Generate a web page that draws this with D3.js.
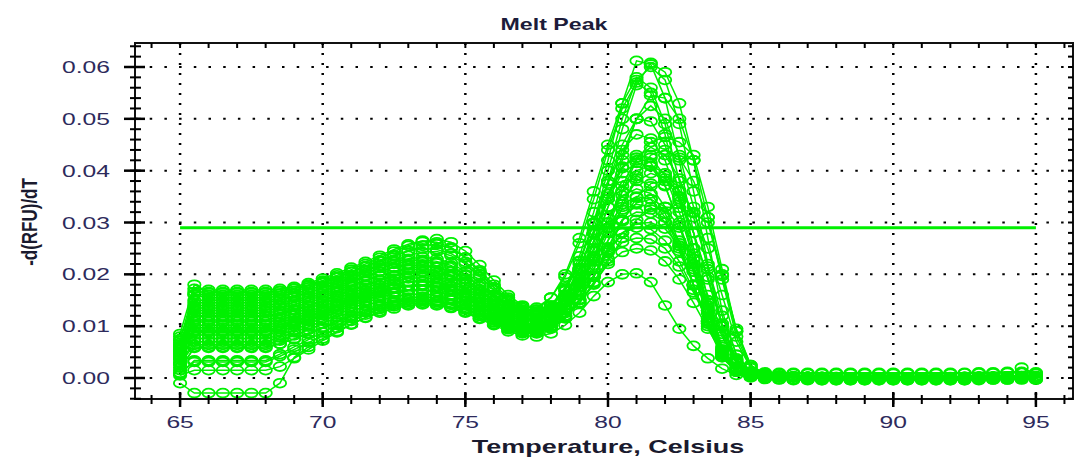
<!DOCTYPE html>
<html>
<head>
<meta charset="utf-8">
<script src="https://cdn.jsdelivr.net/npm/d3@7"></script>
<style>
  body { margin: 0; background: #fff; }
  text { font-family: "Liberation Sans", Arial, sans-serif; }
</style>
</head>
<body>
<svg id="chart" width="1075" height="458"></svg>
<script>
// temperatures (deg C), one reading every half degree
var temps = [65, 65.5, 66, 66.5, 67, 67.5, 68, 68.5, 69, 69.5, 70, 70.5, 71, 71.5, 72, 72.5, 73, 73.5, 74, 74.5,
  75, 75.5, 76, 76.5, 77, 77.5, 78, 78.5, 79, 79.5, 80, 80.5, 81, 81.5, 82, 82.5, 83, 83.5, 84, 84.5,
  85, 85.5, 86, 86.5, 87, 87.5, 88, 88.5, 89, 89.5, 90, 90.5, 91, 91.5, 92, 92.5, 93, 93.5, 94, 94.5, 95];

var xTicks = [65, 70, 75, 80, 85, 90, 95];
var yTicks = [0, 0.01, 0.02, 0.03, 0.04, 0.05, 0.06];
var threshold = 0.029;

// -d(RFU)/dT per well
var well01 = [.0085, .0180,.0165,.0165,.0165,.0165,.0165, .0168,.0172,.0178,.0186,.0195,.0205,.0215,.0225,.0235,.0245, .0255,.0258,
  .0250,.0232,.0205,.0175,.0150,.0132, .0128,.0140,.0175,.0235,.0320,.0420,.0530, .0612,.0605,
  .0540,.0420,.0280,.0150,.0060,.0018,.0006, .0004,.0003,.0002,.0002,.0001,.0001,.0001,.0001,.0001,.0001,.0001,.0001,.0001,.0001,.0001,.0002,.0002,.0002,.0003,.0002];
var well02 = [.0055, .0160,.0155,.0155,.0155,.0155,.0155, .0158,.0163,.0170,.0178,.0188,.0198,.0208,.0218,.0227,.0236, .0243,.0244,
  .0236,.0220,.0196,.0170,.0148,.0130, .0124,.0132,.0160,.0210,.0285,.0380,.0480, .0565,.0608,
  .0590,.0530,.0420,.0270,.0130,.0045,.0012, .0005,.0003,.0002,.0002,.0002,.0001,.0001,.0001,.0001,.0001,.0001,.0001,.0001,.0002,.0002,.0002,.0002,.0003,.0003,.0002];
var well03 = [.0080, .0145,.0145,.0145,.0145,.0145,.0145, .0150,.0156,.0164,.0174,.0184,.0195,.0206,.0216,.0224,.0230, .0233,.0230,
  .0222,.0205,.0182,.0160,.0142,.0130, .0132,.0155,.0200,.0270,.0360,.0450,.0530, .0580,.0560,
  .0490,.0380,.0250,.0130,.0050,.0015,.0005, .0003,.0002,.0002,.0001,.0001,.0001,.0001,.0001,.0001,.0001,.0001,.0001,.0001,.0001,.0001,.0001,.0002,.0002,.0002,.0002];
var well04 = [.0045, .0135,.0135,.0135,.0135,.0135,.0135, .0140,.0146,.0154,.0163,.0173,.0184,.0195,.0205,.0214,.0220, .0224,.0222,
  .0214,.0198,.0176,.0155,.0138,.0126, .0122,.0130,.0150,.0190,.0250,.0330,.0420, .0500,.0545,
  .0540,.0500,.0420,.0310,.0190,.0080,.0020, .0006,.0004,.0003,.0002,.0002,.0002,.0001,.0001,.0001,.0001,.0001,.0001,.0001,.0001,.0002,.0002,.0002,.0002,.0003,.0003];
var well05 = [.0065, .0125,.0125,.0125,.0125,.0125,.0125, .0130,.0137,.0145,.0155,.0165,.0176,.0187,.0197,.0206,.0212, .0215,.0213,
  .0205,.0190,.0170,.0150,.0134,.0122, .0120,.0135,.0170,.0225,.0300,.0380,.0450, .0500,.0495,
  .0450,.0360,.0250,.0140,.0055,.0015,.0003, -.0001,-.0002,-.0003,-.0003,-.0004,-.0004,-.0004,-.0004,-.0004,-.0004,-.0004,-.0004,-.0004,-.0004,-.0004,-.0003,-.0003,-.0003,-.0002,-.0003];
var well06 = [.0040, .0118,.0118,.0118,.0118,.0118,.0118, .0122,.0130,.0138,.0148,.0158,.0168,.0178,.0188,.0196,.0202, .0205,.0203,
  .0196,.0182,.0162,.0143,.0128,.0116, .0112,.0120,.0140,.0175,.0225,.0290,.0360, .0420,.0455,
  .0465,.0455,.0430,.0330,.0210,.0090,.0025, .0008,.0005,.0003,.0002,.0002,.0002,.0001,.0001,.0001,.0001,.0001,.0001,.0001,.0001,.0001,.0002,.0002,.0003,.0020,.0008];
var well07 = [.0050, .0108,.0108,.0108,.0108,.0108,.0108, .0112,.0120,.0128,.0138,.0148,.0158,.0168,.0178,.0186,.0192, .0194,.0190,
  .0183,.0170,.0152,.0134,.0120,.0110, .0110,.0124,.0158,.0210,.0280,.0350,.0405, .0430,.0425,
  .0390,.0320,.0230,.0130,.0050,.0014,.0004, .0003,.0002,.0001,.0001,.0001,.0001,.0001,.0001,.0001,.0001,.0001,.0001,.0001,.0001,.0001,.0001,.0001,.0002,.0002,.0002];
var well08 = [.0035, .0097,.0097,.0097,.0097,.0097,.0097, .0102,.0110,.0120,.0130,.0141,.0152,.0163,.0173,.0181,.0186, .0188,.0185,
  .0178,.0165,.0148,.0131,.0117,.0106, .0104,.0114,.0140,.0180,.0235,.0300,.0360, .0400,.0410,
  .0395,.0350,.0280,.0190,.0100,.0035,.0008, .0004,.0003,.0002,.0002,.0001,.0001,.0001,.0001,.0001,.0001,.0001,.0001,.0001,.0001,.0002,.0002,.0002,.0002,.0002,.0002];
var well09 = [.0075, .0083,.0083,.0083,.0083,.0083,.0083, .0090,.0100,.0110,.0121,.0132,.0144,.0155,.0165,.0173,.0178, .0180,.0176,
  .0170,.0157,.0140,.0124,.0110,.0100, .0098,.0112,.0145,.0195,.0260,.0330,.0380, .0385,.0370,
  .0330,.0260,.0180,.0100,.0040,.0012,.0002, -.0001,-.0002,-.0002,-.0002,-.0002,-.0002,-.0002,-.0002,-.0002,-.0002,-.0002,-.0002,-.0002,-.0002,-.0002,-.0002,-.0001,-.0001,-.0001,-.0001];
var well10 = [.0030, .0070,.0070,.0070,.0070,.0070,.0070, .0078,.0088,.0099,.0110,.0122,.0134,.0145,.0155,.0163,.0168, .0170,.0167,
  .0160,.0148,.0132,.0117,.0104,.0095, .0092,.0104,.0132,.0175,.0230,.0290,.0335, .0350,.0345,
  .0310,.0250,.0180,.0105,.0045,.0014,.0005, .0003,.0002,.0002,.0001,.0001,.0001,.0001,.0001,.0001,.0001,.0001,.0001,.0001,.0001,.0001,.0002,.0002,.0002,.0002,.0002];
var well11 = [.0020, .0058,.0058,.0058,.0058,.0058,.0058, .0066,.0076,.0087,.0098,.0110,.0121,.0132,.0142,.0150,.0155, .0157,.0155,
  .0150,.0140,.0126,.0112,.0100,.0092, .0090,.0100,.0125,.0160,.0210,.0265,.0305, .0320,.0318,
  .0300,.0265,.0210,.0150,.0085,.0030,.0008, .0004,.0003,.0002,.0002,.0001,.0001,.0001,.0001,.0001,.0001,.0001,.0001,.0001,.0001,.0001,.0001,.0002,.0002,.0002,.0002];
var well12 = [.0010, .0031,.0031,.0031,.0031,.0031,.0031, .0042,.0055,.0068,.0082,.0096,.0110,.0122,.0133,.0141,.0146, .0148,.0146,
  .0141,.0132,.0120,.0108,.0097,.0090, .0088,.0096,.0118,.0150,.0195,.0245,.0280, .0290,.0287,
  .0265,.0225,.0170,.0110,.0050,.0015,.0005, .0003,.0002,.0002,.0001,.0001,.0001,.0001,.0001,.0001,.0001,.0001,.0001,.0001,.0001,.0001,.0001,.0001,.0002,.0002,.0002];
var well13 = [.0005, .0015,.0015,.0015,.0015,.0015,.0015, .0022,.0038,.0055,.0072,.0088,.0103,.0117,.0129,.0138,.0143, .0145,.0143,
  .0137,.0128,.0116,.0104,.0094,.0086, .0086,.0095,.0115,.0145,.0185,.0230,.0262, .0270,.0268,
  .0250,.0215,.0165,.0110,.0055,.0020,.0010, .0009,.0008,.0008,.0008,.0008,.0008,.0008,.0008,.0008,.0008,.0008,.0008,.0008,.0008,.0009,.0009,.0009,.0010,.0010,.0009];
var well14 = [-.0010, -.0029,-.0029,-.0029,-.0029,-.0029,-.0029, -.0010,.0040,.0060,.0076,.0090,.0104,.0116,.0126,.0134,.0140, .0142,.0140,
  .0135,.0126,.0114,.0102,.0090,.0082, .0080,.0086,.0102,.0126,.0158,.0185,.0200, .0202,.0185,
  .0140,.0095,.0062,.0038,.0018,.0006,.0001, -.0002,-.0003,-.0004,-.0004,-.0004,-.0004,-.0004,-.0004,-.0004,-.0004,-.0004,-.0004,-.0004,-.0004,-.0004,-.0004,-.0003,-.0003,-.0003,-.0003];
var well15 = [.0060, .0150,.0150,.0150,.0150,.0150,.0150, .0153,.0158,.0165,.0173,.0182,.0192,.0202,.0212,.0220,.0226, .0228,.0225,
  .0217,.0200,.0178,.0157,.0140,.0128, .0125,.0130,.0145,.0170,.0210,.0265,.0330, .0390,.0430,
  .0440,.0425,.0380,.0310,.0200,.0090,.0022, .0007,.0004,.0003,.0002,.0002,.0001,.0001,.0001,.0001,.0001,.0001,.0001,.0001,.0001,.0002,.0002,.0002,.0003,.0004,.0003];
var well16 = [.0025, .0090,.0090,.0090,.0090,.0090,.0090, .0095,.0103,.0112,.0122,.0132,.0143,.0154,.0164,.0172,.0178, .0180,.0178,
  .0172,.0160,.0144,.0128,.0114,.0104, .0100,.0106,.0120,.0145,.0180,.0225,.0270, .0305,.0325,
  .0330,.0328,.0318,.0300,.0197,.0095,.0025, .0008,.0004,.0003,.0002,.0002,.0001,.0001,.0001,.0001,.0001,.0001,.0001,.0001,.0001,.0001,.0002,.0002,.0002,.0003,.0003];
var well17 = [.0072, .0172,.0170,.0170,.0170,.0170,.0170, .0172,.0176,.0183,.0192,.0202,.0213,.0224,.0236,.0248,.0258, .0265,.0262,
  .0252,.0233,.0208,.0180,.0155,.0138, .0136,.0155,.0195,.0260,.0345,.0440,.0520, .0570,.0550,
  .0470,.0350,.0220,.0110,.0040,.0012,.0004, .0003,.0002,.0002,.0001,.0001,.0001,.0001,.0001,.0001,.0001,.0001,.0001,.0001,.0001,.0001,.0001,.0002,.0002,.0002,.0002];
var well18 = [.0062, .0162,.0160,.0160,.0160,.0160,.0160, .0163,.0168,.0175,.0184,.0194,.0205,.0216,.0227,.0237,.0245, .0250,.0248,
  .0240,.0224,.0200,.0175,.0152,.0135, .0128,.0134,.0158,.0200,.0265,.0345,.0430, .0500,.0525,
  .0500,.0430,.0330,.0210,.0100,.0035,.0010, .0005,.0003,.0002,.0002,.0001,.0001,.0001,.0001,.0001,.0001,.0001,.0001,.0001,.0001,.0002,.0002,.0002,.0002,.0002,.0002];
var well19 = [.0050, .0140,.0140,.0140,.0140,.0140,.0140, .0144,.0150,.0158,.0167,.0177,.0187,.0197,.0206,.0213,.0217, .0218,.0214,
  .0206,.0191,.0171,.0151,.0135,.0124, .0122,.0138,.0172,.0226,.0298,.0375,.0440, .0470,.0462,
  .0420,.0340,.0240,.0135,.0052,.0015,.0005, .0003,.0002,.0002,.0001,.0001,.0001,.0001,.0001,.0001,.0001,.0001,.0001,.0001,.0001,.0001,.0001,.0002,.0002,.0002,.0002];
var well20 = [.0058, .0130,.0130,.0130,.0130,.0130,.0130, .0135,.0142,.0150,.0159,.0169,.0179,.0189,.0198,.0205,.0209, .0210,.0207,
  .0199,.0186,.0167,.0148,.0132,.0120, .0116,.0124,.0146,.0182,.0234,.0300,.0370, .0425,.0445,
  .0430,.0385,.0310,.0215,.0120,.0045,.0012, .0005,.0003,.0002,.0002,.0001,.0001,.0001,.0001,.0001,.0001,.0001,.0001,.0001,.0001,.0001,.0002,.0002,.0002,.0002,.0002];
var well21 = [.0042, .0112,.0112,.0112,.0112,.0112,.0112, .0117,.0125,.0134,.0144,.0154,.0164,.0174,.0184,.0192,.0197, .0198,.0195,
  .0188,.0175,.0157,.0139,.0124,.0113, .0112,.0127,.0160,.0212,.0278,.0345,.0395, .0415,.0408,
  .0370,.0300,.0215,.0125,.0050,.0015,.0005, .0003,.0002,.0002,.0001,.0001,.0001,.0001,.0001,.0001,.0001,.0001,.0001,.0001,.0001,.0001,.0001,.0001,.0002,.0002,.0002];
var well22 = [.0038, .0102,.0102,.0102,.0102,.0102,.0102, .0107,.0115,.0124,.0134,.0144,.0155,.0165,.0174,.0181,.0185, .0186,.0183,
  .0176,.0163,.0146,.0130,.0116,.0106, .0103,.0111,.0133,.0168,.0218,.0280,.0340, .0380,.0395,
  .0385,.0345,.0280,.0195,.0105,.0038,.0010, .0004,.0003,.0002,.0002,.0001,.0001,.0001,.0001,.0001,.0001,.0001,.0001,.0001,.0001,.0001,.0002,.0002,.0002,.0002,.0002];
var well23 = [.0068, .0088,.0088,.0088,.0088,.0088,.0088, .0094,.0104,.0114,.0125,.0137,.0148,.0158,.0167,.0174,.0178, .0178,.0174,
  .0167,.0154,.0137,.0121,.0108,.0099, .0097,.0110,.0140,.0186,.0245,.0310,.0352, .0365,.0356,
  .0318,.0255,.0180,.0105,.0042,.0013,.0004, .0003,.0002,.0002,.0001,.0001,.0001,.0001,.0001,.0001,.0001,.0001,.0001,.0001,.0001,.0001,.0001,.0002,.0002,.0002,.0002];
var well24 = [.0040, .0076,.0076,.0076,.0076,.0076,.0076, .0083,.0093,.0104,.0116,.0128,.0139,.0150,.0160,.0166,.0170, .0170,.0166,
  .0159,.0147,.0131,.0116,.0104,.0096, .0094,.0106,.0134,.0176,.0230,.0288,.0325, .0335,.0330,
  .0300,.0245,.0178,.0108,.0046,.0015,.0005, .0003,.0002,.0002,.0001,.0001,.0001,.0001,.0001,.0001,.0001,.0001,.0001,.0001,.0001,.0001,.0001,.0002,.0002,.0002,.0002];
var well25 = [.0028, .0064,.0064,.0064,.0064,.0064,.0064, .0072,.0082,.0093,.0105,.0117,.0128,.0139,.0149,.0157,.0161, .0162,.0159,
  .0153,.0142,.0127,.0113,.0101,.0093, .0091,.0099,.0120,.0152,.0195,.0242,.0280, .0298,.0300,
  .0288,.0255,.0205,.0145,.0080,.0028,.0008, .0004,.0003,.0002,.0002,.0001,.0001,.0001,.0001,.0001,.0001,.0001,.0001,.0001,.0001,.0001,.0001,.0002,.0002,.0002,.0002];
var well26 = [.0015, .0060,.0060,.0060,.0060,.0060,.0060, .0066,.0075,.0085,.0096,.0107,.0118,.0129,.0139,.0147,.0151, .0152,.0149,
  .0143,.0133,.0120,.0107,.0096,.0088, .0087,.0096,.0116,.0145,.0182,.0220,.0243, .0250,.0246,
  .0225,.0190,.0145,.0095,.0048,.0020,.0012, .0011,.0010,.0010,.0010,.0010,.0010,.0010,.0010,.0010,.0010,.0010,.0010,.0010,.0010,.0010,.0011,.0011,.0012,.0012,.0011];
var well27 = [.0050, .0166,.0166,.0166,.0166,.0166,.0166, .0168,.0173,.0180,.0188,.0198,.0209,.0220,.0232,.0244,.0255, .0263,.0268,
  .0262,.0245,.0218,.0188,.0160,.0140, .0132,.0140,.0168,.0220,.0300,.0400,.0500, .0575,.0600,
  .0575,.0490,.0360,.0220,.0100,.0032,.0009, .0005,.0003,.0002,.0002,.0001,.0001,.0001,.0001,.0001,.0001,.0001,.0001,.0001,.0001,.0001,.0002,.0002,.0002,.0003,.0003];
var well28 = [.0048, .0120,.0120,.0120,.0120,.0120,.0120, .0125,.0132,.0140,.0150,.0160,.0170,.0180,.0190,.0198,.0203, .0205,.0202,
  .0195,.0181,.0162,.0143,.0128,.0117, .0113,.0118,.0134,.0160,.0198,.0248,.0302, .0348,.0375,
  .0380,.0362,.0320,.0250,.0160,.0070,.0020, .0007,.0004,.0003,.0002,.0002,.0001,.0001,.0001,.0001,.0001,.0001,.0001,.0001,.0001,.0002,.0002,.0002,.0003,.0004,.0004];
var well29 = [.0058, .0092,.0092,.0092,.0092,.0092,.0092, .0098,.0107,.0117,.0128,.0139,.0150,.0160,.0169,.0175,.0178, .0178,.0175,
  .0168,.0156,.0140,.0124,.0111,.0102, .0100,.0116,.0152,.0208,.0280,.0355,.0408, .0425,.0415,
  .0372,.0295,.0205,.0115,.0045,.0013,.0004, .0003,.0002,.0002,.0001,.0001,.0001,.0001,.0001,.0001,.0001,.0001,.0001,.0001,.0001,.0001,.0001,.0001,.0002,.0002,.0002];
var well30 = [.0008, .0034,.0034,.0034,.0034,.0034,.0034, .0046,.0060,.0074,.0088,.0102,.0115,.0127,.0137,.0145,.0150, .0151,.0149,
  .0144,.0135,.0123,.0111,.0100,.0092, .0090,.0098,.0118,.0150,.0196,.0252,.0305, .0338,.0345,
  .0330,.0290,.0230,.0160,.0090,.0032,.0009, .0004,.0003,.0002,.0002,.0001,.0001,.0001,.0001,.0001,.0001,.0001,.0001,.0001,.0001,.0001,.0002,.0002,.0002,.0002,.0002];

var wells = [well01, well02, well03, well04, well05, well06, well07, well08, well09, well10,
             well11, well12, well13, well14, well15, well16, well17, well18, well19, well20,
             well21, well22, well23, well24, well25, well26, well27, well28, well29, well30];

var green = "#00f000";
var box = {left: 135, right: 1073, top: 43, bottom: 399};

var svg = d3.select("#chart");

var x = d3.scaleLinear().domain([63.42, 96.3]).range([box.left, box.right]);
var y = d3.scaleLinear().domain([-0.00405, 0.06463]).range([box.bottom, box.top]);

var xMinor = d3.range(64, 97);
var yMinor = d3.range(-4, 65, 2).map(function(d) { return d / 1000; });

// dotted grid
svg.append("g").selectAll("line")
    .data(yTicks).enter().append("line")
    .attr("x1", box.left).attr("x2", box.right)
    .attr("y1", function(d) { return y(d); })
    .attr("y2", function(d) { return y(d); })
    .attr("stroke", "#000").attr("stroke-width", 2)
    .attr("stroke-dasharray", "2.5,12.2");

svg.append("g").selectAll("line")
    .data(xTicks).enter().append("line")
    .attr("x1", function(d) { return x(d); })
    .attr("x2", function(d) { return x(d); })
    .attr("y1", box.top).attr("y2", box.bottom)
    .attr("stroke", "#000").attr("stroke-width", 2.5)
    .attr("stroke-dasharray", "2,8");

// curves
svg.append("clipPath").attr("id", "plotclip")
  .append("rect")
    .attr("x", box.left).attr("y", box.top)
    .attr("width", box.right - box.left).attr("height", box.bottom - box.top);

var plot = svg.append("g").attr("clip-path", "url(#plotclip)");

var line = d3.line()
    .x(function(d, i) { return x(temps[i]); })
    .y(function(d) { return y(d); });

wells.forEach(function(w) {
  var pts = w.slice(0, temps.length);
  var g = plot.append("g");
  g.append("path")
      .attr("d", line(pts))
      .attr("fill", "none")
      .attr("stroke", green)
      .attr("stroke-width", 1.5);
  g.selectAll("ellipse")
      .data(pts).enter().append("ellipse")
      .attr("cx", function(d, i) { return x(temps[i]); })
      .attr("cy", function(d) { return y(d); })
      .attr("rx", 6.2).attr("ry", 4.4)
      .attr("fill", "none")
      .attr("stroke", green)
      .attr("stroke-width", 1.8);
});

// threshold
plot.append("line")
    .attr("x1", x(65)).attr("x2", x(95))
    .attr("y1", y(threshold)).attr("y2", y(threshold))
    .attr("stroke", green).attr("stroke-width", 3);

// frame
svg.append("rect")
    .attr("x", box.left).attr("y", box.top)
    .attr("width", box.right - box.left).attr("height", box.bottom - box.top)
    .attr("fill", "none").attr("stroke", "#111").attr("stroke-width", 2);

// ticks
var ticks = svg.append("g").attr("stroke", "#000");

ticks.selectAll("line.lmin").data(yMinor).enter().append("line")
    .attr("x1", box.left - 5).attr("x2", box.left + 6)
    .attr("y1", function(d) { return y(d); }).attr("y2", function(d) { return y(d); })
    .attr("stroke-width", 2);
ticks.selectAll("line.lmaj").data(yTicks).enter().append("line")
    .attr("x1", box.left - 11).attr("x2", box.left + 10)
    .attr("y1", function(d) { return y(d); }).attr("y2", function(d) { return y(d); })
    .attr("stroke-width", 2.5);
ticks.selectAll("line.rmin").data(yMinor).enter().append("line")
    .attr("x1", box.right - 5).attr("x2", box.right)
    .attr("y1", function(d) { return y(d); }).attr("y2", function(d) { return y(d); })
    .attr("stroke-width", 2);

ticks.selectAll("line.bmin").data(xMinor).enter().append("line")
    .attr("x1", function(d) { return x(d); }).attr("x2", function(d) { return x(d); })
    .attr("y1", box.bottom - 4).attr("y2", box.bottom + 5)
    .attr("stroke-width", 2);
ticks.selectAll("line.bmaj").data(xTicks).enter().append("line")
    .attr("x1", function(d) { return x(d); }).attr("x2", function(d) { return x(d); })
    .attr("y1", box.bottom - 7).attr("y2", box.bottom + 8)
    .attr("stroke-width", 2.5);
ticks.selectAll("line.tmin").data(xMinor).enter().append("line")
    .attr("x1", function(d) { return x(d); }).attr("x2", function(d) { return x(d); })
    .attr("y1", box.top).attr("y2", box.top + 5)
    .attr("stroke-width", 2);

// tick labels, stretched like the source image
var labelColor = "#2d2a5c";

svg.append("g").selectAll("text")
    .data(yTicks).enter().append("text")
    .attr("transform", function(d) { return "translate(110," + (y(d) + 6) + ") scale(1.45,1)"; })
    .attr("text-anchor", "end")
    .attr("font-size", 17)
    .attr("fill", labelColor)
    .text(d3.format(".2f"));

svg.append("g").selectAll("text")
    .data(xTicks).enter().append("text")
    .attr("transform", function(d) { return "translate(" + x(d) + ",428) scale(1.45,1)"; })
    .attr("text-anchor", "middle")
    .attr("font-size", 17)
    .attr("fill", labelColor)
    .text(function(d) { return d; });

// titles
svg.append("text")
    .attr("transform", "translate(554,30) scale(1.45,1)")
    .attr("text-anchor", "middle")
    .attr("font-size", 16)
    .attr("font-weight", "bold")
    .attr("fill", "#1c1c3a")
    .text("Melt Peak");

svg.append("text")
    .attr("transform", "translate(608,453) scale(1.5,1)")
    .attr("text-anchor", "middle")
    .attr("font-size", 18)
    .attr("font-weight", "bold")
    .attr("fill", "#1a1a2e")
    .text("Temperature, Celsius");

svg.append("text")
    .attr("transform", "translate(37,222) scale(1.3,1) rotate(-90)")
    .attr("text-anchor", "middle")
    .attr("font-size", 17)
    .attr("font-weight", "bold")
    .attr("fill", "#1a1a2e")
    .text("-d(RFU)/dT");
</script>
</body>
</html>
